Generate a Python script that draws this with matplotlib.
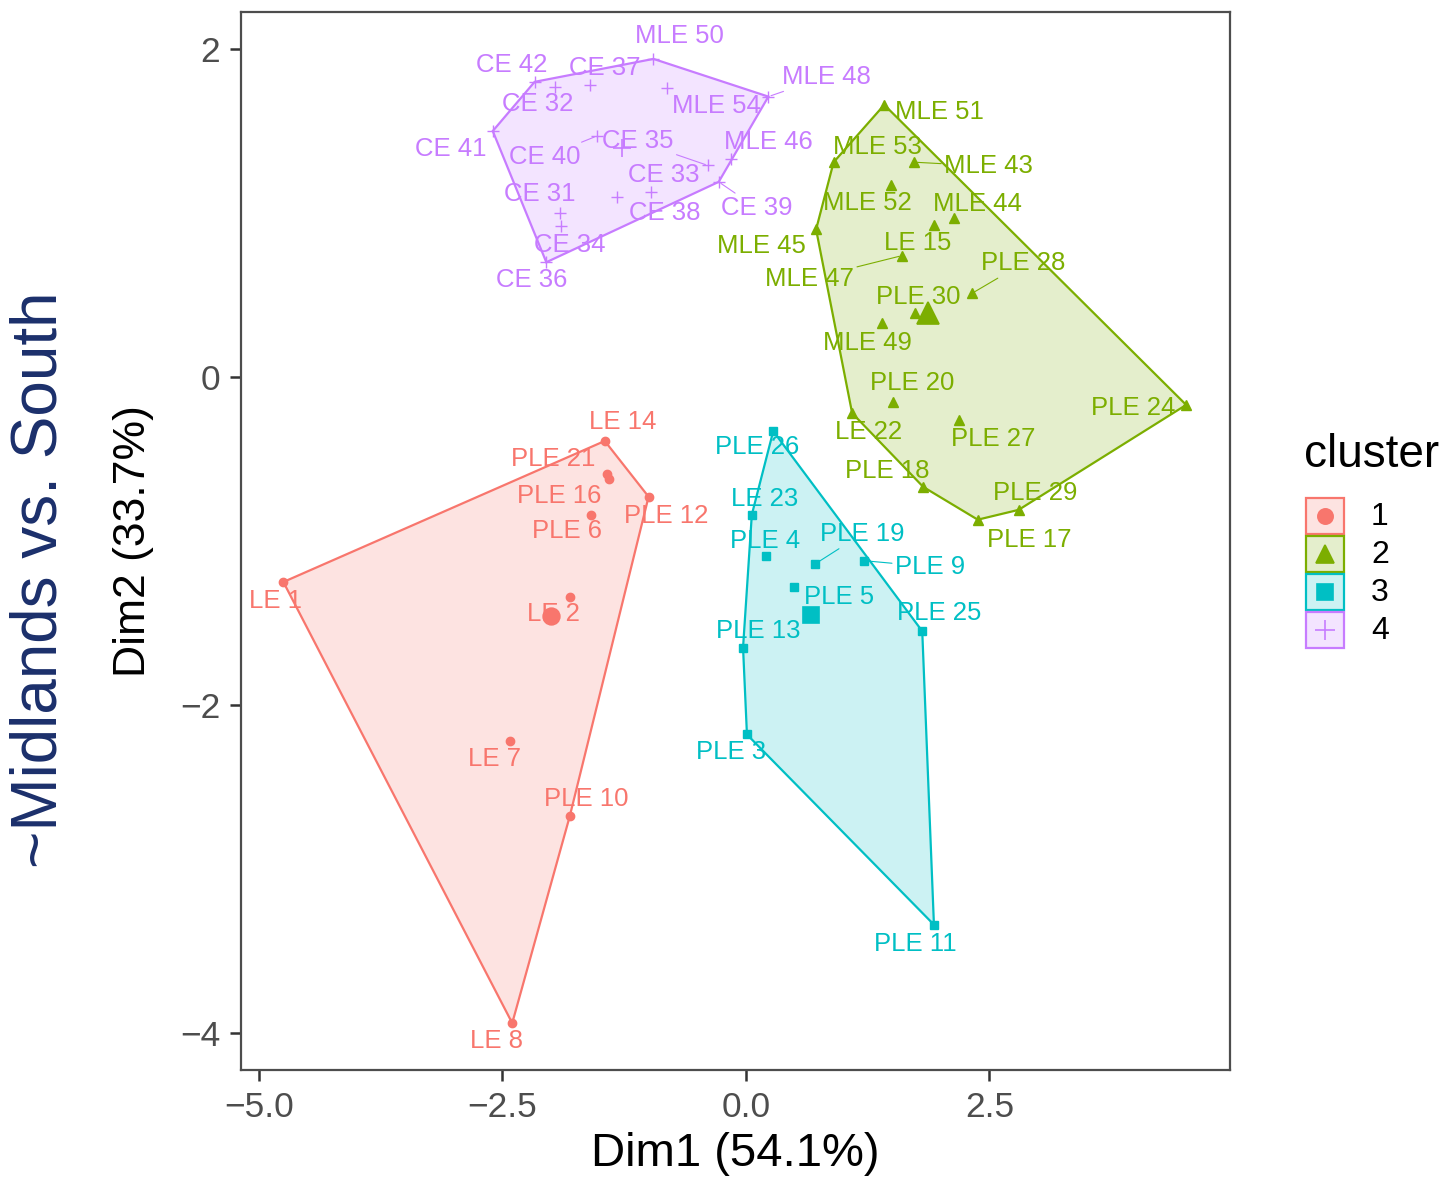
import numpy as np
import matplotlib
matplotlib.use("Agg")
import matplotlib.pyplot as plt
from matplotlib.patches import Polygon, Rectangle

plt.rcParams['font.family'] = ['Liberation Sans', 'DejaVu Sans']

# ---------------- data ----------------
names1 = ["LE 14", "PLE 21", "PLE 16", "PLE 12", "PLE 6", "LE 1", "LE 2", "LE 7", "PLE 10", "LE 8"]
x1 = [-1.45, -1.43, -1.41, -1.00, -1.59, -4.75, -1.81, -2.42, -1.81, -2.40]
y1 = [-0.39, -0.59, -0.62, -0.73, -0.84, -1.25, -1.34, -2.22, -2.68, -3.94]

names2 = ["MLE 51", "MLE 53", "MLE 43", "MLE 52", "MLE 44", "LE 15", "MLE 45", "MLE 47", "PLE 28",
          "PLE 30", "MLE 49", "PLE 20", "LE 22", "PLE 27", "PLE 24", "PLE 18", "PLE 17", "PLE 29"]
x2 = [1.42, 0.90, 1.73, 1.49, 2.14, 1.93, 0.72, 1.60, 2.32, 1.74, 1.40, 1.51, 1.09, 2.19, 4.52, 1.82, 2.38, 2.80]
y2 = [1.66, 1.31, 1.31, 1.17, 0.97, 0.93, 0.90, 0.74, 0.51, 0.39, 0.33, -0.15, -0.22, -0.26, -0.17, -0.67, -0.87, -0.81]

names3 = ["PLE 26", "LE 23", "PLE 4", "PLE 19", "PLE 9", "PLE 5", "PLE 25", "PLE 13", "PLE 3", "PLE 11"]
x3 = [0.28, 0.06, 0.21, 0.71, 1.21, 0.49, 1.81, -0.03, 0.01, 1.93]
y3 = [-0.33, -0.84, -1.09, -1.14, -1.12, -1.28, -1.55, -1.65, -2.18, -3.34]

names4 = ["MLE 50", "CE 42", "CE 32", "CE 37", "MLE 54", "MLE 48", "CE 41", "CE 40", "CE 35",
          "MLE 46", "CE 39", "CE 38", "CE 33", "CE 31", "CE 34", "CE 36"]
x4 = [-0.95, -2.17, -1.96, -1.60, -0.81, 0.23, -2.60, -1.53, -0.39, -0.15, -0.28, -1.32, -0.98, -1.91, -1.90, -2.05]
y4 = [1.94, 1.80, 1.77, 1.78, 1.76, 1.71, 1.50, 1.47, 1.29, 1.33, 1.19, 1.10, 1.13, 1.00, 0.92, 0.70]

cluster_labels = ["1", "2", "3", "4"]
x_ticks = [-5.0, -2.5, 0.0, 2.5]
x_ticklabels = ["\u22125.0", "\u22122.5", "0.0", "2.5"]
y_ticks = [-4, -2, 0, 2]
y_ticklabels = ["\u22124", "\u22122", "0", "2"]
x_title = "Dim1 (54.1%)"
y_title = "Dim2 (33.7%)"
y_title2 = "~Midlands vs. South"

# ---------------- layout / style ----------------
# label offsets in pixels (dx right, dy down) relative to the point (repel-like placement)
label_off = {
    "LE 14": (18, -19), "PLE 21": (-54, -15), "PLE 16": (-49, 17), "PLE 12": (18, 19), "PLE 6": (-24, 16),
    "LE 1": (-8, 19), "LE 2": (-16, 17), "LE 7": (-16, 18), "PLE 10": (17, -17), "LE 8": (-16, 18),
    "MLE 51": (55, 7), "MLE 53": (44, -15), "MLE 43": (74, 4), "MLE 52": (-24, 18), "MLE 44": (23, -14),
    "LE 15": (-16, 18), "MLE 45": (-55, 17), "MLE 47": (-92, 23), "PLE 28": (51, -30), "PLE 30": (3, -16),
    "MLE 49": (-15, 20), "PLE 20": (19, -19), "LE 22": (16, 19), "PLE 27": (34, 19), "PLE 24": (-53, 3),
    "PLE 18": (-36, -16), "PLE 17": (51, 20), "PLE 29": (17, -17),
    "PLE 26": (-16, 16), "LE 23": (13, -16), "PLE 4": (-1, -15), "PLE 19": (47, -30), "PLE 9": (66, 6),
    "PLE 5": (45, 10), "PLE 25": (17, -18), "PLE 13": (15, -17), "PLE 3": (-16, 18), "PLE 11": (-19, 19),
    "MLE 50": (26, -23), "CE 42": (-23, -17), "CE 32": (-17, 17), "CE 37": (15, -17), "MLE 54": (49, 18),
    "MLE 48": (58, -20), "CE 41": (-42, 18), "CE 40": (-52, 21), "CE 35": (-70, -24), "MLE 46": (37, -17),
    "CE 39": (38, 26), "CE 33": (13, -17), "CE 38": (47, 16), "CE 31": (-20, -19), "CE 34": (9, 19),
    "CE 36": (-15, 18),
}
with_segment = {"MLE 43", "MLE 47", "PLE 28", "PLE 19", "PLE 9", "MLE 48", "CE 40", "CE 35", "CE 39"}

colors = ['#F8766D', '#7CAE00', '#00BFC4', '#C77CFF']
markers = ['o', '^', 's', '+']
msize = [6, 7.5, 5.8, 9]
csize = [12, 16, 12, 13]

W, H = 1451, 1177
fig = plt.figure(figsize=(W / 100, H / 100), dpi=100)
ax = fig.add_axes([241 / W, 1 - 1070 / H, (1230 - 241) / W, (1070 - 12) / H])
ax.set_xlim(-5.185, 4.97)
ax.set_ylim(-4.226, 2.226)


def convex_hull(pts):
    pts = sorted(map(tuple, pts))

    def cross(o, a, b):
        return (a[0] - o[0]) * (b[1] - o[1]) - (a[1] - o[1]) * (b[0] - o[0])
    lower, upper = [], []
    for p in pts:
        while len(lower) >= 2 and cross(lower[-2], lower[-1], p) <= 0:
            lower.pop()
        lower.append(p)
    for p in reversed(pts):
        while len(upper) >= 2 and cross(upper[-2], upper[-1], p) <= 0:
            upper.pop()
        upper.append(p)
    return np.array(lower[:-1] + upper[:-1])


clusters = [(names1, x1, y1), (names2, x2, y2), (names3, x3, y3), (names4, x4, y4)]
for k, (nm, xs, ys) in enumerate(clusters):
    c = colors[k]
    pts = np.column_stack([xs, ys])
    hull = convex_hull(pts)
    ax.add_patch(Polygon(hull, closed=True, facecolor=c, alpha=0.2, edgecolor='none', zorder=1))
    ax.add_patch(Polygon(hull, closed=True, facecolor='none', edgecolor=c, lw=1.6, zorder=2))
    ax.plot(xs, ys, ls='none', marker=markers[k], color=c, ms=msize[k], mew=1.0, zorder=3)
    ax.plot([np.mean(xs)], [np.mean(ys)], ls='none', marker=markers[k], color=c,
            ms=csize[k], mew=1.2, zorder=3)
    for n, xv, yv in zip(nm, xs, ys):
        dx, dy = label_off[n]
        kw = {}
        if n in with_segment:
            kw['arrowprops'] = dict(arrowstyle='-', color=c, lw=0.8, shrinkA=0, shrinkB=2)
        ax.annotate(n, xy=(xv, yv), xytext=(dx * 0.72, -dy * 0.72), textcoords='offset points',
                    ha='center', va='center', fontsize=18.5, color=c, zorder=4, **kw)

ax.set_xticks(x_ticks)
ax.set_xticklabels(x_ticklabels)
ax.set_yticks(y_ticks)
ax.set_yticklabels(y_ticklabels)
ax.tick_params(length=8, width=1.8, color='#333333', labelsize=25.5, labelcolor='#4D4D4D', pad=7)
for s in ax.spines.values():
    s.set_color('#4D4D4D')
    s.set_linewidth(1.6)

# axis titles
fig.text(735 / W, 1 - 1154 / H, x_title, ha='center', va='center', fontsize=34, color='black')
fig.text(133 / W, 1 - 541 / H, y_title, ha='center', va='center', rotation=90, fontsize=32, color='black')
fig.text(40 / W, 1 - 580 / H, y_title2, ha='center', va='center', rotation=90, fontsize=46, color='#1B2F6B')

# legend (pixel-coordinate overlay)
lax = fig.add_axes([0, 0, 1, 1])
lax.set_xlim(0, W)
lax.set_ylim(H, 0)
lax.axis('off')
lax.text(1304, 455, "cluster", ha='left', va='center', fontsize=33, color='black')
key_tops = [498, 536, 574, 612]
for k in range(4):
    c = colors[k]
    top = key_tops[k]
    lax.add_patch(Rectangle((1306, top), 38, 36, facecolor=c, alpha=0.2, edgecolor='none'))
    lax.add_patch(Rectangle((1306, top), 38, 36, facecolor='none', edgecolor=c, lw=1.6))
    lax.plot([1325], [top + 18], marker=markers[k], color=c, ms=[11, 13, 11, 14][k], mew=1.2, ls='none')
    lax.text(1371, top + 19, cluster_labels[k], ha='left', va='center', fontsize=23, color='black')

fig.savefig("out.png", dpi=100)
